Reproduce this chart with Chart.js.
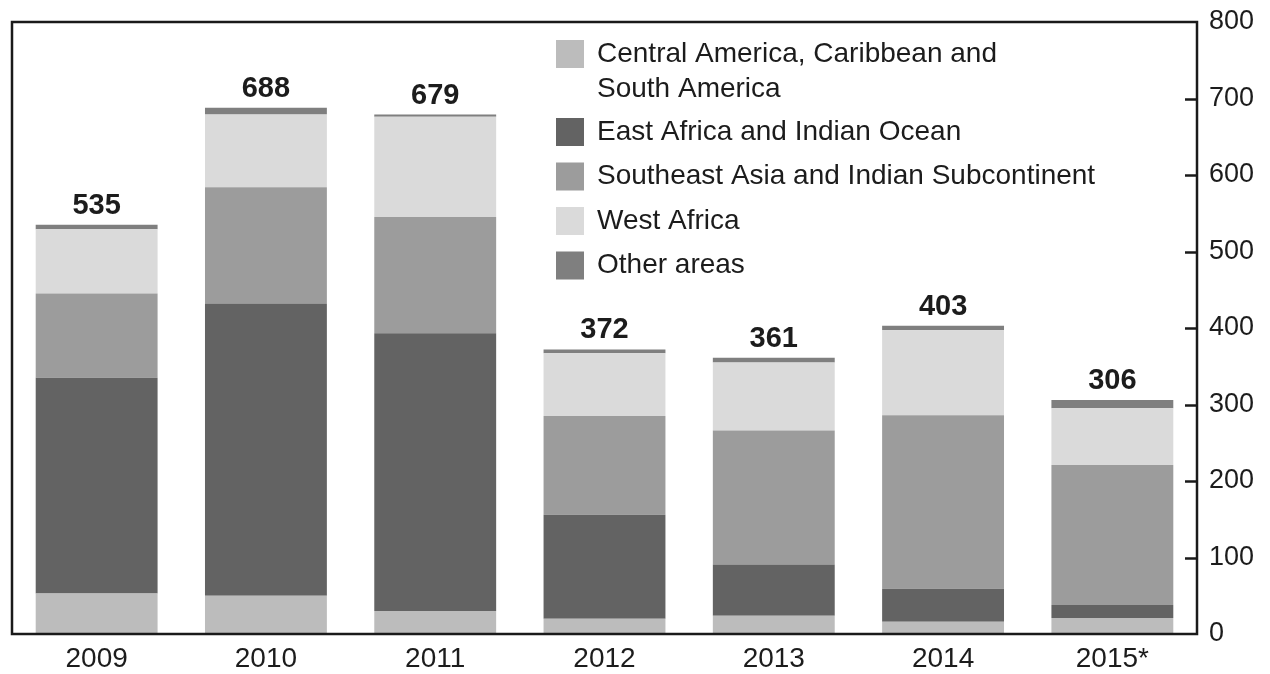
<!DOCTYPE html>
<html>
<head>
<meta charset="utf-8">
<script src="https://cdn.jsdelivr.net/npm/chart.js@4"></script>
<style>
  html, body { margin: 0; padding: 0; background: #fff; }
  #wrap { width: 1270px; height: 674px; }
</style>
</head>
<body>
<div id="wrap"><canvas id="chart" width="1270" height="674"></canvas></div>
<script>
// data
const years = ['2009', '2010', '2011', '2012', '2013', '2014', '2015*'];
const seriesNames = [
  'Central America, Caribbean and\nSouth America',
  'East Africa and Indian Ocean',
  'Southeast Asia and Indian Subcontinent',
  'West Africa',
  'Other areas'
];
const centralAmerica = [53, 50, 30, 20, 24, 16, 21];
const eastAfrica     = [282, 382, 363, 136, 67, 43, 17];
const southeastAsia  = [110, 152, 152, 129, 175, 227, 183];
const westAfrica     = [84, 95, 131, 82, 89, 111, 74];
const otherAreas     = [6, 9, 3, 5, 6, 6, 11];
const totals         = [535, 688, 679, 372, 361, 403, 306];
const yTicks = [0, 100, 200, 300, 400, 500, 600, 700, 800];

const colors = ['#bcbcbc', '#636363', '#9c9c9c', '#dadada', '#7f7f7f'];
const FONT = "'Liberation Sans', Arial, sans-serif";
const INK = '#1c1c1c';

// box round the plot, inner ticks, totals, legend
const decorations = {
  id: 'decorations',
  afterDatasetsDraw(chart) {
    const ctx = chart.ctx;
    const a = chart.chartArea;
    const y = chart.scales.y;
    const x = chart.scales.x;
    ctx.save();

    // totals above bars
    ctx.fillStyle = INK;
    ctx.font = 'bold 29px ' + FONT;
    ctx.textAlign = 'center';
    ctx.textBaseline = 'alphabetic';
    totals.forEach((t, i) => {
      ctx.fillText(String(t), x.getPixelForValue(i), y.getPixelForValue(t) - 11);
    });

    // frame
    ctx.strokeStyle = '#1a1a1a';
    ctx.lineWidth = 2.5;
    ctx.strokeRect(a.left, a.top, a.right - a.left, a.bottom - a.top);

    // tick marks pointing into the plot
    yTicks.slice(1, -1).forEach(v => {
      const py = Math.round(y.getPixelForValue(v)) + 0.5;
      ctx.beginPath();
      ctx.moveTo(a.right - 12, py);
      ctx.lineTo(a.right, py);
      ctx.stroke();
    });

    // legend
    let ly = 54;
    const sq = 28;
    chart.data.datasets.forEach(ds => {
      const lines = ds.label.split('\n');
      ctx.fillStyle = ds.backgroundColor;
      ctx.fillRect(556, ly - sq / 2, sq, sq);
      ctx.fillStyle = INK;
      ctx.font = '28px ' + FONT;
      ctx.textAlign = 'left';
      ctx.textBaseline = 'middle';
      lines.forEach((ln, k) => ctx.fillText(ln, 597, ly + k * 35));
      ly += 44.5 + (lines.length - 1) * 33.5;
    });

    ctx.restore();
  }
};

const data = [centralAmerica, eastAfrica, southeastAsia, westAfrica, otherAreas];

new Chart(document.getElementById('chart'), {
  type: 'bar',
  data: {
    labels: years,
    datasets: seriesNames.map((name, i) => ({
      label: name,
      data: data[i],
      backgroundColor: colors[i],
      borderWidth: 0,
      barPercentage: 0.72,
      categoryPercentage: 1.0
    }))
  },
  options: {
    responsive: false,
    animation: false,
    layout: { padding: { left: 12, top: 22, right: 0, bottom: 0 } },
    plugins: {
      legend: { display: false },
      tooltip: { enabled: false }
    },
    scales: {
      x: {
        stacked: true,
        grid: { display: false, drawTicks: false },
        border: { display: false },
        ticks: { color: INK, font: { family: FONT, size: 28 }, padding: 8, maxRotation: 0 },
        afterFit(s) { s.height = 40; s.paddingLeft = 0; s.paddingRight = 0; }
      },
      y: {
        stacked: true,
        position: 'right',
        min: 0,
        max: 800,
        afterBuildTicks(s) { s.ticks = yTicks.map(v => ({ value: v })); },
        grid: { display: false, drawTicks: false },
        border: { display: false },
        ticks: { color: INK, font: { family: FONT, size: 27 }, padding: 12 },
        afterFit(s) { s.width = 73; s.paddingTop = 0; s.paddingBottom = 0; }
      }
    }
  },
  plugins: [decorations]
});
</script>
</body>
</html>
